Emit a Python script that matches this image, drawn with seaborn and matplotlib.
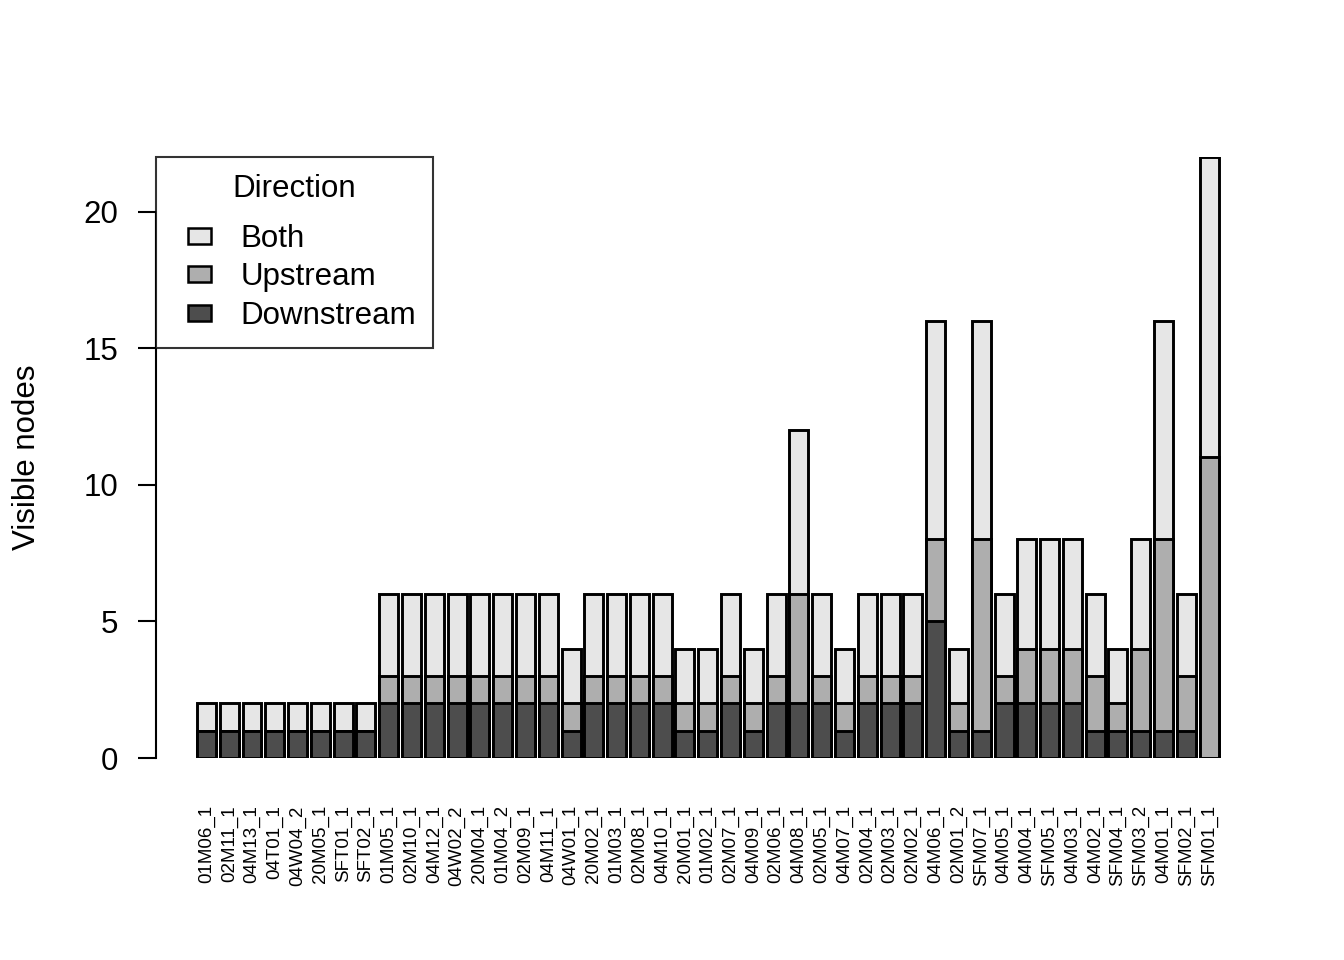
import numpy as np
import pandas as pd
import matplotlib
matplotlib.use("Agg")
import matplotlib.pyplot as plt
import seaborn as sns
from matplotlib.patches import Patch, Rectangle
from matplotlib.legend_handler import HandlerPatch

# 사이트 이름 (x축)
sites = ["01M06_1", "02M11_1", "04M13_1", "04T01_1", "04W04_2", "20M05_1", "SFT01_1", "SFT02_1",
         "01M05_1", "02M10_1", "04M12_1", "04W02_2", "20M04_1", "01M04_2", "02M09_1", "04M11_1",
         "04W01_1", "20M02_1", "01M03_1", "02M08_1", "04M10_1", "20M01_1", "01M02_1", "02M07_1",
         "04M09_1", "02M06_1", "04M08_1", "02M05_1", "04M07_1", "02M04_1", "02M03_1", "02M02_1",
         "04M06_1", "02M01_2", "SFM07_1", "04M05_1", "04M04_1", "SFM05_1", "04M03_1", "04M02_1",
         "SFM04_1", "SFM03_2", "04M01_1", "SFM02_1", "SFM01_1"]

# 방향별 노드 수
downstream = [1, 1, 1, 1, 1, 1, 1, 1,
              2, 2, 2, 2, 2, 2, 2, 2,
              1, 2, 2, 2, 2, 1, 1, 2,
              1, 2, 2, 2, 1, 2, 2, 2,
              5, 1, 1, 2, 2, 2, 2, 1,
              1, 1, 1, 1, 0]
upstream = [0, 0, 0, 0, 0, 0, 0, 0,
            1, 1, 1, 1, 1, 1, 1, 1,
            1, 1, 1, 1, 1, 1, 1, 1,
            1, 1, 4, 1, 1, 1, 1, 1,
            3, 1, 7, 1, 2, 2, 2, 2,
            1, 3, 7, 2, 11]
both = [1, 1, 1, 1, 1, 1, 1, 1,
        3, 3, 3, 3, 3, 3, 3, 3,
        2, 3, 3, 3, 3, 2, 2, 3,
        2, 3, 6, 3, 2, 3, 3, 3,
        8, 2, 8, 3, 4, 4, 4, 3,
        2, 4, 8, 3, 11]

directions = ["Both", "Upstream", "Downstream"]
colors = {"Both": "#E6E6E6", "Upstream": "#AEAEAE", "Downstream": "#4D4D4D"}

df = pd.DataFrame({"site": sites, "Downstream": downstream,
                   "Upstream": upstream, "Both": both})
df["d_top"] = df["Downstream"]
df["u_top"] = df["Downstream"] + df["Upstream"]
df["b_top"] = df["u_top"] + df["Both"]

sns.set_style("white")
plt.rcParams["font.family"] = ["Liberation Sans", "DejaVu Sans"]
plt.rcParams["text.color"] = "black"
plt.rcParams["axes.labelcolor"] = "black"
plt.rcParams["xtick.color"] = "black"
plt.rcParams["ytick.color"] = "black"

fig = plt.figure(figsize=(13.44, 9.6), dpi=100)
ax = fig.add_axes([0.116, 0.2104, 0.824, 0.6261])

bw = 1 / 1.2
lw = 2.1
# 누적 막대: 위에서부터 겹쳐 그리기
sns.barplot(data=df, x="site", y="b_top", color=colors["Both"], saturation=1,
            edgecolor="black", linewidth=lw, width=bw, order=sites, ax=ax)
sns.barplot(data=df, x="site", y="u_top", color=colors["Upstream"], saturation=1,
            edgecolor="black", linewidth=lw, width=bw, order=sites, ax=ax)
sns.barplot(data=df, x="site", y="d_top", color=colors["Downstream"], saturation=1,
            edgecolor="black", linewidth=lw, width=bw, order=sites, ax=ax)

ax.set_xlim(-2.217, 46.38)
ax.set_ylim(0, 22)

for s in ["top", "right", "bottom"]:
    ax.spines[s].set_visible(False)
ax.spines["left"].set_bounds(0, 20)
ax.spines["left"].set_linewidth(1.5)
ax.spines["left"].set_color("black")

ax.set_yticks([0, 5, 10, 15, 20])
ax.tick_params(axis="y", length=13, width=1.5, pad=14, labelsize=22.5, left=True, direction="out")
ax.tick_params(axis="x", length=0, pad=34, labelsize=13.5)
ax.set_xticks(range(len(sites)))
ax.set_xticklabels(sites, rotation=90)

ax.set_xlabel("")
ax.set_ylabel("Visible nodes", fontsize=22.5)
ax.yaxis.label.set_va("center")
ax.yaxis.set_label_coords(-(156 - 27) / 1107, 0.5)


# 범례 상자: 오른쪽에 작은 사각형
def small_box(legend, orig_handle, xdescent, ydescent, width, height, fontsize):
    w, h = 16.6, 11.5
    return Rectangle((-xdescent + width - w, -ydescent + (height - h) / 2), w, h)


handles = [Patch(facecolor=colors[d], edgecolor="black", linewidth=1.8, label=d) for d in directions]
leg = ax.legend(handles=handles, title="Direction", loc="upper left", bbox_to_anchor=(0, 1),
                borderaxespad=0, fontsize=22.5, title_fontsize=22.5, fancybox=False,
                frameon=True, handlelength=1.2, handleheight=0.7, handletextpad=0.96,
                labelspacing=0.27, borderpad=0.55,
                handler_map={Patch: HandlerPatch(patch_func=small_box)})
leg._legend_box.sep = 0.27 * 22.5 + 8.0
leg.get_frame().set_edgecolor("black")
leg.get_frame().set_linewidth(1.5)

fig.savefig("out.png", dpi=100)
